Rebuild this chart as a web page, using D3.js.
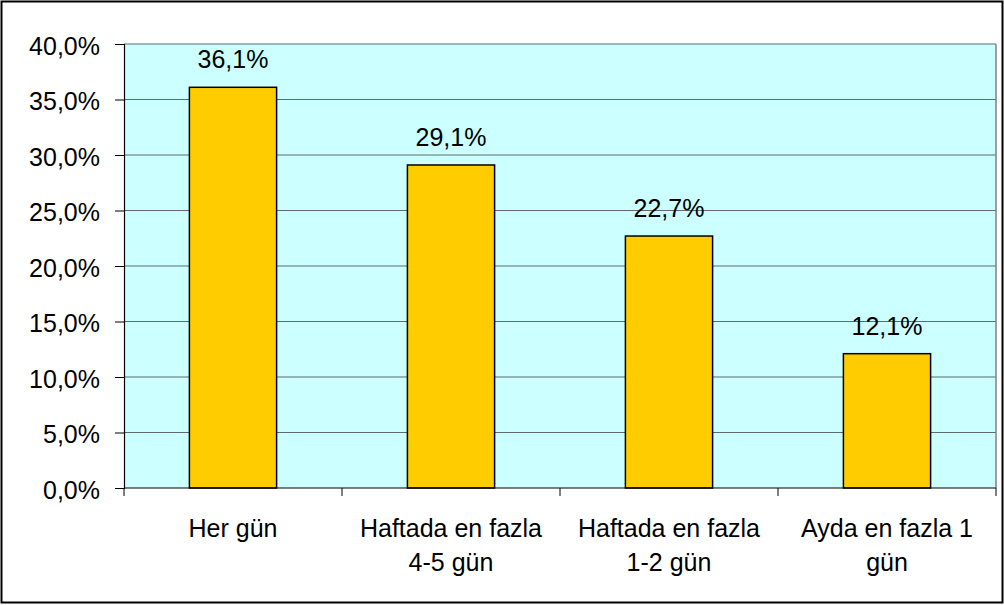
<!DOCTYPE html>
<html>
<head>
<meta charset="utf-8">
<script src="https://cdn.jsdelivr.net/npm/d3@7"></script>
<style>
  body { margin: 0; background: #fff; }
  svg { display: block; font-family: "Liberation Sans", Arial, sans-serif; }
</style>
</head>
<body>
<svg width="1004" height="605"></svg>
<script>
// Data
var categories = [["Her gün"], ["Haftada en fazla", "4-5 gün"], ["Haftada en fazla", "1-2 gün"], ["Ayda en fazla 1", "gün"]];
var values = [36.1, 29.1, 22.7, 12.1];
var yTicks = [0, 5, 10, 15, 20, 25, 30, 35, 40];

var svg = d3.select("svg");
var fmt = function(v) { return d3.format(".1f")(v).replace(".", ",") + "%"; };
var fontSize = 25;

// frame
svg.append("rect")
  .attr("x", 1.5).attr("y", 1.5)
  .attr("width", 1001).attr("height", 601)
  .attr("fill", "#fff").attr("stroke", "#000").attr("stroke-width", 2);

var plot = { left: 124, top: 44, right: 996, bottom: 488 };

var x = d3.scaleBand()
  .domain(d3.range(categories.length))
  .range([plot.left, plot.right])
  .paddingInner(0.6).paddingOuter(0.3);

var xCat = d3.scaleBand()
  .domain(d3.range(categories.length))
  .range([plot.left, plot.right]);

var y = d3.scaleLinear().domain([0, 40]).range([plot.bottom, plot.top]);

// plot background
svg.append("rect")
  .attr("x", plot.left).attr("y", plot.top)
  .attr("width", plot.right - plot.left).attr("height", plot.bottom - plot.top)
  .attr("fill", "#ccffff");

// gridlines
svg.append("g")
  .selectAll("line")
  .data(yTicks.slice(1))
  .enter().append("line")
  .attr("x1", plot.left).attr("x2", plot.right)
  .attr("y1", function(d) { return y(d); })
  .attr("y2", function(d) { return y(d); })
  .attr("stroke", "#5f6b6b").attr("stroke-width", 1.2);

// right border
svg.append("line")
  .attr("x1", plot.right).attr("x2", plot.right)
  .attr("y1", plot.top).attr("y2", plot.bottom)
  .attr("stroke", "#808080").attr("stroke-width", 1.5);

// bars
svg.append("g")
  .selectAll("rect")
  .data(values)
  .enter().append("rect")
  .attr("x", function(d, i) { return x(i); })
  .attr("y", function(d) { return y(d); })
  .attr("width", x.bandwidth())
  .attr("height", function(d) { return plot.bottom - y(d); })
  .attr("fill", "#ffcc00")
  .attr("stroke", "#000").attr("stroke-width", 1.5);

// data labels
svg.append("g")
  .selectAll("text")
  .data(values)
  .enter().append("text")
  .attr("x", function(d, i) { return x(i) + x.bandwidth() / 2; })
  .attr("y", function(d) { return y(d) - 19; })
  .attr("text-anchor", "middle")
  .attr("font-size", fontSize)
  .attr("fill", "#000")
  .text(function(d) { return fmt(d); });

// y axis
var yAxis = svg.append("g")
  .attr("transform", "translate(" + plot.left + ",0)")
  .call(d3.axisLeft(y).tickValues(yTicks).tickSize(9).tickPadding(15).tickFormat(fmt));
yAxis.attr("font-size", fontSize).attr("font-family", null);
yAxis.select(".domain").attr("stroke", "#000").attr("stroke-width", 1.2);
yAxis.selectAll(".tick line").attr("stroke", "#000");
yAxis.selectAll(".tick text").attr("fill", "#000").attr("dy", "0.4em");

// x axis line and ticks at category boundaries
svg.append("line")
  .attr("x1", plot.left).attr("x2", plot.right)
  .attr("y1", plot.bottom).attr("y2", plot.bottom)
  .attr("stroke", "#000").attr("stroke-width", 1.2);
svg.append("g")
  .selectAll("line")
  .data(d3.range(categories.length + 1))
  .enter().append("line")
  .attr("x1", function(i) { return i < categories.length ? xCat(i) : plot.right; })
  .attr("x2", function(i) { return i < categories.length ? xCat(i) : plot.right; })
  .attr("y1", plot.bottom).attr("y2", plot.bottom + 8)
  .attr("stroke", "#000");

// category labels
var catLabels = svg.append("g")
  .selectAll("text")
  .data(categories)
  .enter().append("text")
  .attr("x", function(d, i) { return xCat(i) + xCat.bandwidth() / 2; })
  .attr("y", 537)
  .attr("text-anchor", "middle")
  .attr("font-size", fontSize)
  .attr("fill", "#000");
catLabels.selectAll("tspan")
  .data(function(d) { return d; })
  .enter().append("tspan")
  .attr("x", function() { return d3.select(this.parentNode).attr("x"); })
  .attr("dy", function(d, i) { return i === 0 ? 0 : 34; })
  .text(function(d) { return d; });
</script>
</body>
</html>
